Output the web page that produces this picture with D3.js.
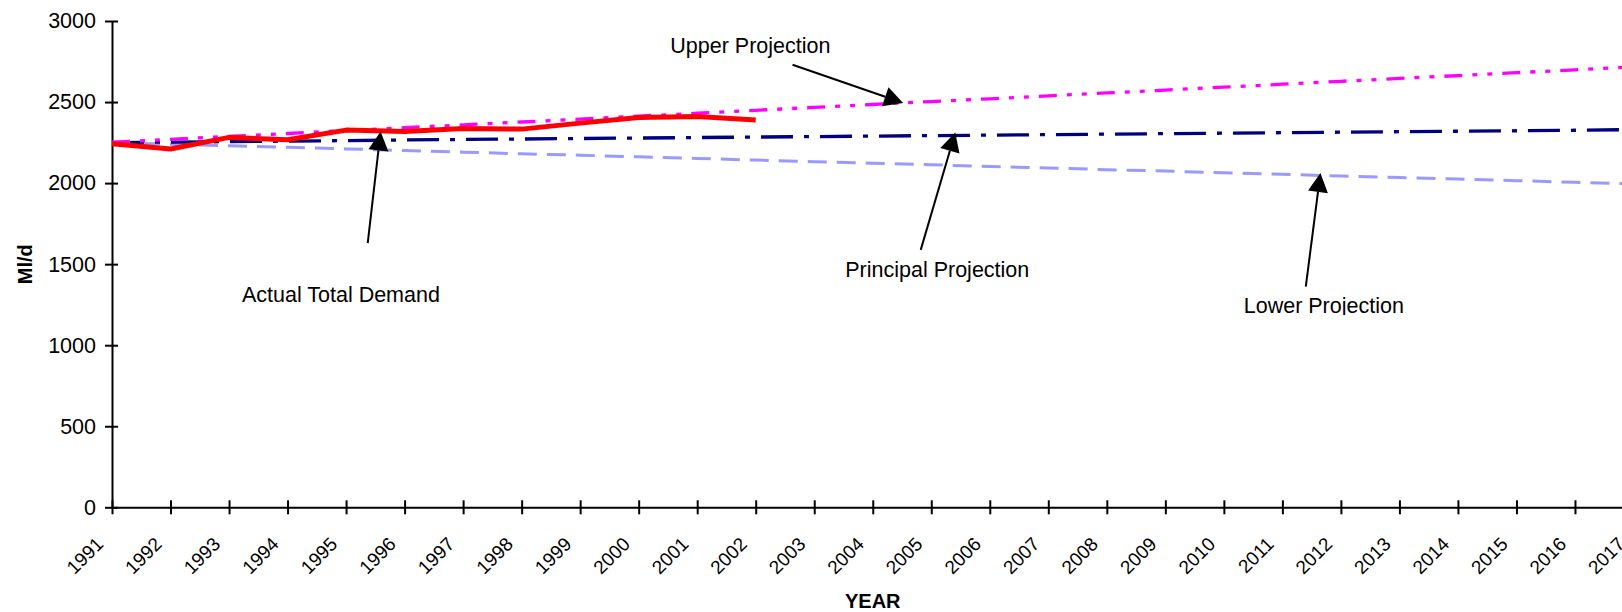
<!DOCTYPE html>
<html>
<head>
<meta charset="utf-8">
<script src="https://cdn.jsdelivr.net/npm/d3@7"></script>
<style>
  body { margin: 0; background: #fff; }
  text { font-family: Arial, "Liberation Sans", sans-serif; fill: #000; }
</style>
</head>
<body>
<div id="chart"></div>
<script>
// years on the category axis
var years = [1991, 1992, 1993, 1994, 1995, 1996, 1997, 1998, 1999, 2000, 2001, 2002, 2003,
  2004, 2005, 2006, 2007, 2008, 2009, 2010, 2011, 2012, 2013, 2014, 2015, 2016, 2017];

// Ml/d, actual figures stop at 2002
var actualDemand = [2243, 2210, 2282, 2267, 2327, 2319, 2337, 2333, 2370, 2405, 2411, 2389];
var upperProjection = [2252, 2270, 2288, 2306, 2324, 2342, 2359, 2377, 2395, 2413, 2431, 2449, 2467,
  2485, 2503, 2520, 2538, 2556, 2574, 2592, 2610, 2628, 2646, 2663, 2681, 2699, 2717];
var principalProjection = [2250, 2253, 2256, 2259, 2262, 2266, 2269, 2272, 2275, 2278, 2281, 2284, 2287,
  2290, 2293, 2296, 2299, 2302, 2305, 2308, 2311, 2314, 2317, 2320, 2323, 2326, 2330];
var lowerProjection = [2250, 2240, 2230, 2221, 2211, 2201, 2191, 2181, 2172, 2162, 2152, 2142, 2132,
  2123, 2113, 2103, 2093, 2083, 2074, 2064, 2054, 2044, 2034, 2025, 2015, 2005, 1995];

var yTicks = [0, 500, 1000, 1500, 2000, 2500, 3000];

// callouts, in chart units (year, Ml/d)
var notes = [
  { label: "Actual Total Demand", at: [1993.22, 1269], tail: [1995.37, 1630], tip: [1995.59, 2318] },
  { label: "Upper Projection", at: [2000.54, 2802], tail: [2002.63, 2730], tip: [2004.52, 2494] },
  { label: "Principal Projection", at: [2003.53, 1423], tail: [2004.82, 1588], tip: [2005.41, 2312] },
  { label: "Lower Projection", at: [2010.34, 1199], tail: [2011.40, 1362], tip: [2011.65, 2062], cut: 2 }
];

var width = 1622, height = 612;
var x = d3.scaleLinear().domain([1991, 2017]).range([112, 1633.5]);
var y = d3.scaleLinear().domain([0, 3000]).range([507.3, 21]);

var svg = d3.select("#chart").append("svg")
  .attr("width", width)
  .attr("height", height);

// axes
var yAxis = svg.append("g")
  .attr("transform", "translate(" + x.range()[0] + ",0)")
  .call(d3.axisLeft(y).tickValues(yTicks).tickFormat(d3.format("d")).tickSizeOuter(0).tickPadding(10));
yAxis.select(".domain").attr("stroke", "#000").attr("stroke-width", 2);
yAxis.selectAll(".tick line").attr("x1", -7).attr("x2", 6).attr("stroke", "#000").attr("stroke-width", 2);
yAxis.selectAll(".tick text").attr("font-size", 21.5).attr("font-family", null);

var xAxis = svg.append("g")
  .attr("transform", "translate(0," + y(0) + ")")
  .call(d3.axisBottom(x).tickValues(years).tickFormat(d3.format("d")).tickSizeOuter(0));
xAxis.select(".domain").attr("stroke", "#000").attr("stroke-width", 2);
xAxis.selectAll(".tick line").attr("y1", -7).attr("y2", 7).attr("stroke", "#000").attr("stroke-width", 2);
xAxis.selectAll(".tick text")
  .attr("font-size", 19)
  .attr("font-family", null)
  .attr("x", 0).attr("y", 0).attr("dy", 0)
  .attr("text-anchor", "end")
  .attr("transform", "translate(-8,38) rotate(-45)");

svg.append("text")
  .attr("transform", "translate(32," + d3.mean(y.range()) + ") rotate(-90)")
  .attr("text-anchor", "middle")
  .attr("font-size", 20)
  .attr("font-weight", "bold")
  .text("Ml/d");

svg.append("text")
  .attr("x", d3.mean(x.range()))
  .attr("y", 608)
  .attr("text-anchor", "middle")
  .attr("font-size", 20)
  .attr("font-weight", "bold")
  .text("YEAR");

// series
var line = d3.line()
  .x(function (d, i) { return x(years[i]); })
  .y(function (d) { return y(d); });

var series = [
  { values: lowerProjection, color: "#9999FF", width: 3, dash: "19,10" },
  { values: principalProjection, color: "#000080", width: 3.3, dash: "32,11,5,11" },
  { values: upperProjection, color: "#FF00FF", width: 3.3, dash: "18,10,5,10,5,10" },
  { values: actualDemand, color: "#FF0000", width: 5, dash: null }
];

svg.selectAll(".series")
  .data(series)
  .enter().append("path")
  .attr("class", "series")
  .attr("d", function (s) { return line(s.values); })
  .attr("fill", "none")
  .attr("stroke", function (s) { return s.color; })
  .attr("stroke-width", function (s) { return s.width; })
  .attr("stroke-dasharray", function (s) { return s.dash; })
  .attr("stroke-linejoin", "round");

// callouts with arrows
var headLen = 19, headHalf = 10;
notes.forEach(function (n, k) {
  var tx = x(n.tip[0]), ty = y(n.tip[1]);
  var sx = x(n.tail[0]), sy = y(n.tail[1]);
  var len = Math.hypot(tx - sx, ty - sy);
  var ux = (tx - sx) / len, uy = (ty - sy) / len;
  var bx = tx - ux * headLen, by = ty - uy * headLen;

  svg.append("line")
    .attr("x1", sx).attr("y1", sy)
    .attr("x2", bx).attr("y2", by)
    .attr("stroke", "#000")
    .attr("stroke-width", 2);

  svg.append("path")
    .attr("d", "M" + tx + "," + ty +
      "L" + (bx - uy * headHalf) + "," + (by + ux * headHalf) +
      "L" + (bx + uy * headHalf) + "," + (by - ux * headHalf) + "Z")
    .attr("fill", "#000");

  var t = svg.append("text")
    .attr("x", x(n.at[0]))
    .attr("y", y(n.at[1]))
    .attr("font-size", 21.5)
    .text(n.label);

  if (n.cut) {
    // text box in the original is cropped just under the baseline
    svg.append("clipPath").attr("id", "cut" + k)
      .append("rect")
      .attr("x", 0).attr("y", 0)
      .attr("width", width).attr("height", y(n.at[1]) + n.cut);
    t.attr("clip-path", "url(#cut" + k + ")");
  }
});
</script>
</body>
</html>
